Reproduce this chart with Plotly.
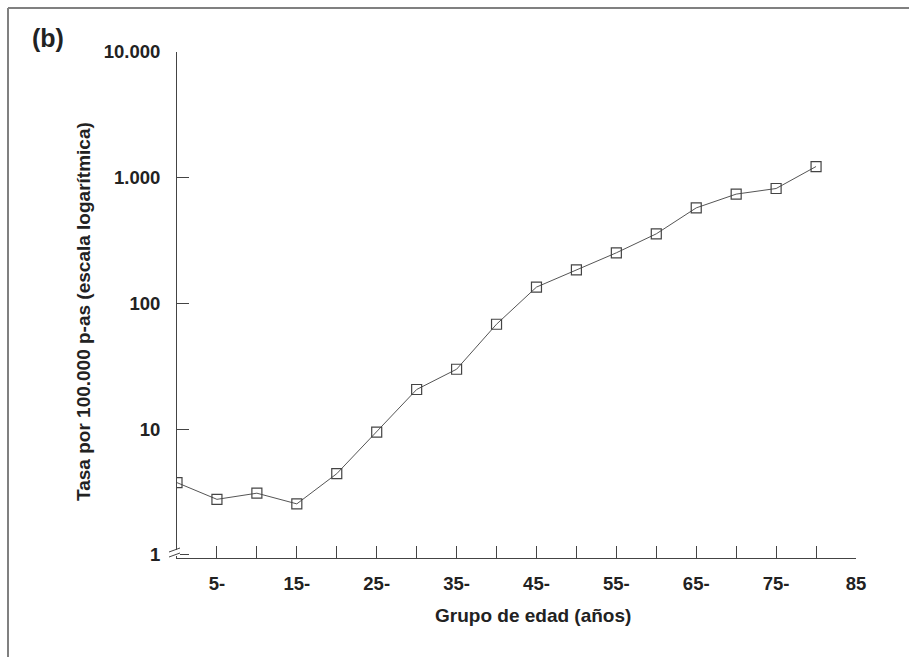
import plotly.graph_objects as go

edad = [0, 5, 10, 15, 20, 25, 30, 35, 40, 45, 50, 55, 60, 65, 70, 75, 80]
tasa = [3.76, 2.77, 3.10, 2.55, 4.43, 9.5, 20.7, 30.0, 68.4, 135, 185, 253, 358, 576, 741, 821, 1228]

x_ticks = [5, 10, 15, 20, 25, 30, 35, 40, 45, 50, 55, 60, 65, 70, 75, 80, 85]
x_labels = ["5-", "", "15-", "", "25-", "", "35-", "", "45-", "", "55-", "", "65-", "", "75-", "", "85"]
y_ticks = [1, 10, 100, 1000, 10000]
y_labels = ["1", "10", "100", "1.000", "10.000"]

W, H = 909, 657
L, R, T, B = 177, 53, 52, 99
pw, ph = W - L - R, H - T - B

def px(x):
    return (x - L) / pw

def py(y):
    return (H - B - y) / ph

FAM = "Liberation Sans, Arial, sans-serif"
tick_font = dict(family=FAM, size=18.5, color="#222222", weight="bold")
ann_font = dict(family=FAM, size=19, color="#222222", weight="bold")

fig = go.Figure()
fig.add_trace(go.Scatter(
    x=edad, y=tasa, mode="lines+markers",
    line=dict(color="#555555", width=1),
    marker=dict(symbol="square-open", size=10, color="#444444", line=dict(width=1.2)),
    showlegend=False,
))

fig.update_layout(
    width=W, height=H,
    margin=dict(l=L, r=R, t=T, b=B),
    paper_bgcolor="white", plot_bgcolor="white",
    font=dict(family=FAM, size=17, color="#222222"),
    xaxis=dict(
        range=[0, 85], tickvals=x_ticks, ticktext=x_labels,
        ticks="inside", ticklen=12, tickcolor="#444444", tickwidth=1,
        showline=True, linecolor="#444444", linewidth=1,
        showgrid=False, zeroline=False,
        tickfont=tick_font,
        ticklabelstandoff=9,
    ),
    yaxis=dict(
        type="log", range=[-0.024, 4], tickvals=y_ticks, ticktext=y_labels,
        ticks="inside", ticklen=12, tickcolor="#444444", tickwidth=1,
        showline=True, linecolor="#444444", linewidth=1,
        showgrid=False, zeroline=False,
        tickfont=tick_font,
        ticklabelstandoff=12,
    ),
)

fig.add_annotation(text="Grupo de edad (años)", x=px(533), y=py(615), xref="paper", yref="paper",
                   showarrow=False, font=ann_font, xanchor="center", yanchor="middle")
fig.add_annotation(text="Tasa por 100.000 p-as (escala logarítmica)", x=px(84), y=py(311),
                   xref="paper", yref="paper", textangle=-90,
                   showarrow=False, font=ann_font, xanchor="center", yanchor="middle")
fig.add_annotation(text="(b)", x=px(48), y=py(38), xref="paper", yref="paper",
                   showarrow=False, font=dict(family=FAM, size=25, color="#222222", weight="bold"),
                   xanchor="center", yanchor="middle")

# frame lines (top and left)
fig.add_shape(type="line", xref="paper", yref="paper", x0=px(8), x1=px(909), y0=py(8), y1=py(8),
              line=dict(color="#808080", width=2))
fig.add_shape(type="line", xref="paper", yref="paper", x0=px(8), x1=px(8), y0=py(8), y1=py(657),
              line=dict(color="#808080", width=2))

# axis break marks
fig.add_shape(type="rect", xref="paper", yref="paper", x0=px(174), x1=px(180), y0=py(550), y1=py(556),
              line=dict(width=0), fillcolor="white")
fig.add_shape(type="line", xref="paper", yref="paper", x0=px(169), x1=px(180), y0=py(552), y1=py(548),
              line=dict(color="#444444", width=1))
fig.add_shape(type="line", xref="paper", yref="paper", x0=px(169), x1=px(180), y0=py(557), y1=py(553),
              line=dict(color="#444444", width=1))

fig.write_html("out.html")
